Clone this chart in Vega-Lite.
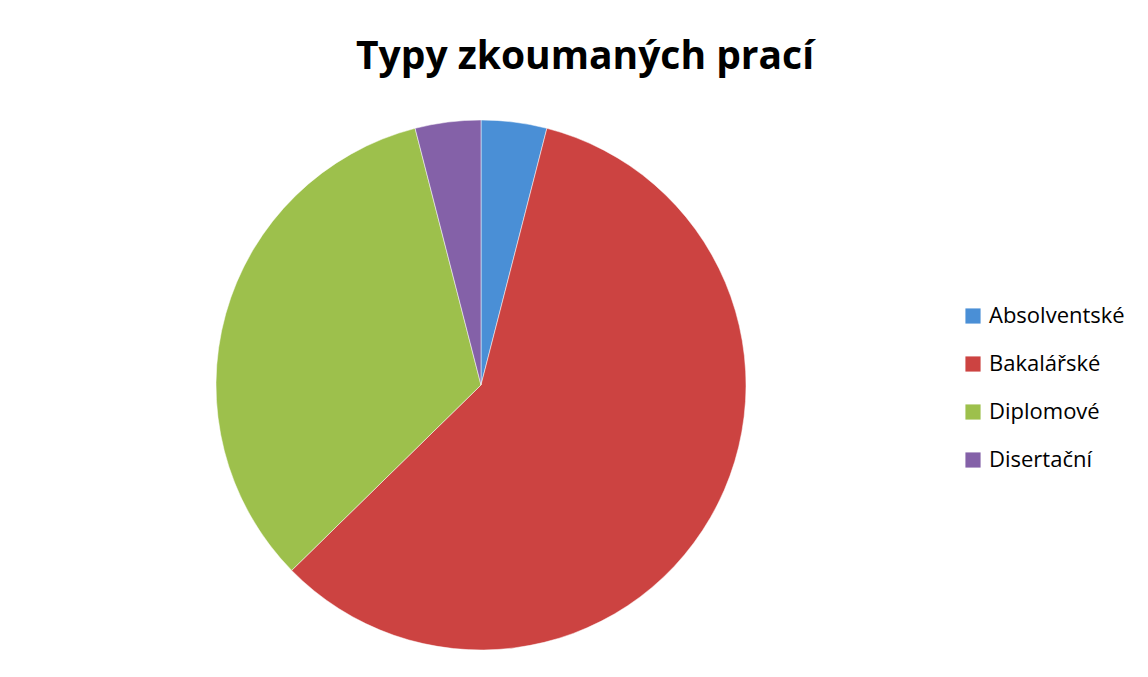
{
  "$schema": "https://vega.github.io/schema/vega-lite/v6.json",
  "autosize": "none",
  "width": 530,
  "height": 530,
  "padding": {"left": 216, "top": 120, "right": 402, "bottom": 27},
  "background": "white",
  "title": {
    "text": "Typy zkoumaných prací",
    "font": "Open Sans",
    "fontSize": 39,
    "fontWeight": "bold",
    "color": "#000000",
    "anchor": "middle",
    "dx": 104,
    "offset": 42
  },
  "data": {
    "values": [
      {"typ": "Absolventské", "pocet": 3, "poradi": 1},
      {"typ": "Bakalářské", "pocet": 44, "poradi": 2},
      {"typ": "Diplomové", "pocet": 25, "poradi": 3},
      {"typ": "Disertační", "pocet": 3, "poradi": 4}
    ]
  },
  "mark": {"type": "arc", "outerRadius": 265, "stroke": "white", "strokeWidth": 0.5},
  "encoding": {
    "theta": {"field": "pocet", "type": "quantitative", "stack": true},
    "order": {"field": "poradi", "type": "quantitative"},
    "color": {
      "field": "typ",
      "type": "nominal",
      "sort": ["Absolventské", "Bakalářské", "Diplomové", "Disertační"],
      "scale": {
        "domain": ["Absolventské", "Bakalářské", "Diplomové", "Disertační"],
        "range": ["#4A8FD6", "#CC4341", "#9DC04C", "#8461A8"]
      },
      "legend": {
        "title": null,
        "orient": "none",
        "legendX": 746,
        "legendY": 185,
        "symbolType": "square",
        "symbolSize": 230,
        "symbolStrokeWidth": 0,
        "labelFont": "Open Sans",
        "labelFontSize": 22,
        "labelColor": "#000000",
        "labelOffset": 5,
        "rowPadding": 26
      }
    }
  }
}
